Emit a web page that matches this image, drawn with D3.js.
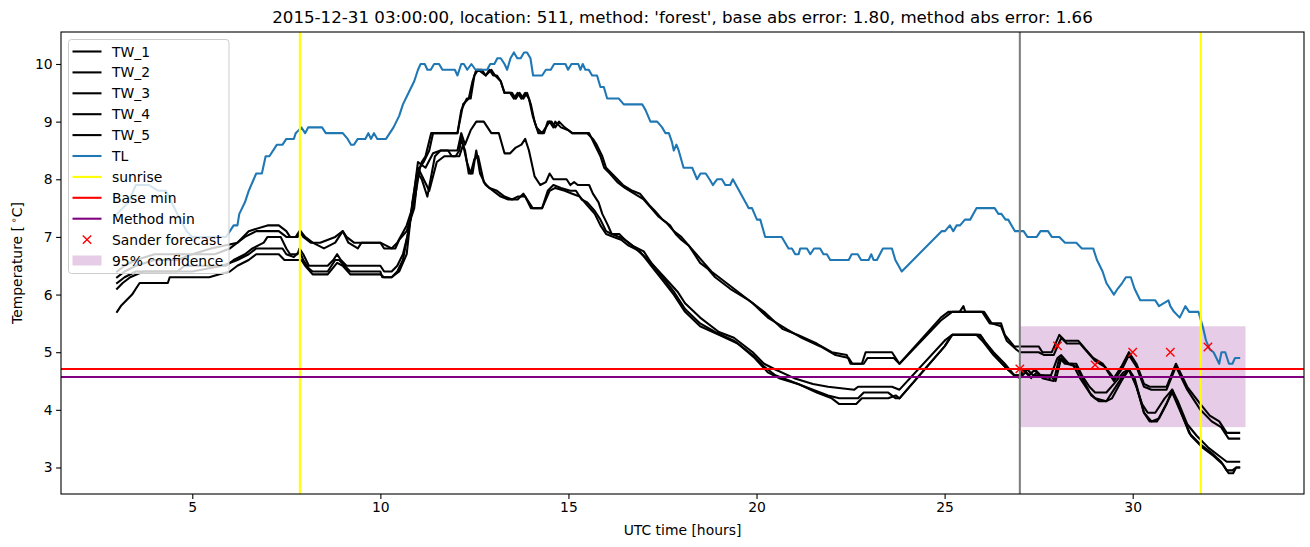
<!DOCTYPE html>
<html><head><meta charset="utf-8">
<script src="https://cdn.jsdelivr.net/npm/d3@7"></script>
<style>body{margin:0;background:#fff}text{font-family:"DejaVu Sans",sans-serif}</style>
</head><body>
<svg id="c" width="1310" height="547"></svg>
<script>
// ---- data: [hour, temperature] ----
const TW_1 = [[3.0,6.4],[3.2,6.5],[3.5,6.6],[4.0,6.7],[5.0,6.7],[5.5,6.8],[6.2,6.9],[6.5,7.1],[7.0,7.2],[7.3,7.2],[7.5,7.1],[7.6,7.0],[7.75,7.0],[7.85,7.1],[7.95,7.0],[8.15,6.9],[8.4,6.9],[8.8,7.0],[9.0,7.1],[9.1,7.0],[9.3,6.9],[10.0,6.9],[10.1,6.8],[10.4,6.8],[10.5,6.95],[10.7,7.1],[10.9,7.5],[11.0,8.1],[11.1,8.3],[11.2,8.4],[11.35,8.8],[12.05,8.8],[12.15,9.2],[12.3,9.4],[12.4,9.4],[12.5,9.8],[12.6,9.9],[12.8,9.8],[12.9,9.9],[13.0,9.8],[13.1,9.8],[13.2,9.7],[13.3,9.5],[13.45,9.5],[13.55,9.4],[13.65,9.5],[13.75,9.4],[13.85,9.5],[13.95,9.4],[14.05,9.1],[14.15,8.9],[14.3,8.8],[14.4,8.9],[14.5,9.0],[14.6,8.9],[14.65,9.0],[14.8,8.9],[15.0,8.85],[15.1,8.8],[15.5,8.8],[15.65,8.7],[15.75,8.6],[15.9,8.4],[16.0,8.2],[16.15,8.1],[16.3,8.0],[16.45,7.9],[16.7,7.8],[16.9,7.75],[17.15,7.55],[17.3,7.45],[17.5,7.3],[17.7,7.2],[17.85,7.05],[18.0,6.95],[18.2,6.85],[18.35,6.7],[18.5,6.55],[18.7,6.45],[18.9,6.3],[19.3,6.1],[19.8,5.9],[20.2,5.7],[20.7,5.4],[21.1,5.3],[21.6,5.15],[22.0,5.0],[22.4,4.95],[22.5,4.8],[22.8,4.8],[22.9,5.0],[23.6,5.0],[23.8,4.8],[24.9,5.6],[25.1,5.7],[25.4,5.7],[25.5,5.8],[25.55,5.7],[26.0,5.7],[26.2,5.5],[26.5,5.5],[26.6,5.3],[26.85,5.1],[27.0,5.1],[27.5,5.1],[27.6,5.0],[27.85,5.0],[28.05,5.3],[28.2,5.2],[28.55,5.2],[28.75,5.05],[28.95,4.9],[29.2,4.8],[29.5,4.55],[29.7,4.75],[29.9,5.0],[30.1,4.8],[30.3,4.45],[30.45,4.4],[30.9,4.4],[31.15,4.8],[31.45,4.4],[31.8,4.1],[32.05,3.9],[32.3,3.8],[32.5,3.6],[32.83,3.6]];
const TW_2 = [[3.0,6.3],[3.2,6.4],[3.5,6.5],[4.0,6.6],[4.6,6.6],[5.0,6.7],[5.6,6.7],[6.0,6.8],[6.4,7.0],[6.7,7.1],[7.3,7.1],[7.5,7.0],[7.8,7.0],[7.88,7.1],[8.0,7.0],[8.2,6.9],[8.5,6.8],[8.8,6.9],[9.0,7.1],[9.15,6.9],[9.4,6.8],[9.5,6.9],[10.0,6.9],[10.3,6.8],[10.45,6.9],[10.7,7.2],[10.9,7.6],[11.05,8.2],[11.15,8.3],[11.3,8.5],[11.4,8.8],[12.05,8.8],[12.2,9.3],[12.35,9.4],[12.45,9.7],[12.55,9.9],[12.7,9.9],[12.8,9.8],[12.95,9.9],[13.05,9.8],[13.2,9.7],[13.3,9.5],[13.5,9.5],[13.6,9.4],[13.7,9.5],[13.8,9.4],[13.9,9.5],[14.0,9.3],[14.1,9.0],[14.2,8.8],[14.35,8.8],[14.45,9.0],[14.55,9.0],[14.65,8.9],[14.75,9.0],[14.9,8.9],[15.1,8.8],[15.55,8.8],[15.7,8.6],[15.85,8.4],[15.95,8.2],[16.1,8.1],[16.3,7.95],[16.5,7.85],[16.75,7.75],[17.0,7.65],[17.2,7.5],[17.4,7.35],[17.6,7.25],[17.8,7.1],[18.0,7.0],[18.2,6.85],[18.4,6.7],[18.6,6.55],[18.8,6.4],[19.0,6.3],[19.4,6.1],[19.9,5.85],[20.3,5.6],[20.8,5.4],[21.2,5.25],[21.7,5.1],[22.1,4.95],[22.45,4.9],[22.55,4.8],[22.85,4.8],[22.95,4.9],[23.65,4.9],[23.8,4.8],[24.9,5.55],[25.2,5.7],[26.05,5.7],[26.25,5.5],[26.5,5.45],[26.65,5.2],[26.9,5.05],[27.0,5.0],[27.5,5.0],[27.65,4.95],[27.9,4.95],[28.1,5.25],[28.25,5.15],[28.6,5.15],[28.8,5.0],[29.0,4.85],[29.25,4.75],[29.5,4.5],[29.75,4.75],[29.9,4.95],[30.1,4.75],[30.3,4.4],[30.5,4.35],[30.9,4.35],[31.15,4.75],[31.45,4.35],[31.8,4.0],[32.1,3.8],[32.35,3.7],[32.55,3.5],[32.83,3.5]];
const TW_3 = [[3.0,6.1],[3.15,6.2],[3.35,6.3],[3.7,6.4],[4.6,6.4],[4.8,6.5],[5.9,6.5],[6.1,6.6],[6.4,6.7],[6.6,6.8],[6.9,6.9],[7.0,7.0],[7.35,7.0],[7.5,6.8],[7.6,6.7],[7.8,6.7],[7.85,6.8],[7.95,6.7],[8.1,6.5],[8.6,6.5],[8.75,6.6],[8.85,6.7],[8.95,6.6],[9.1,6.5],[10.0,6.5],[10.1,6.4],[10.3,6.4],[10.45,6.5],[10.6,6.7],[10.75,7.1],[10.9,7.8],[11.0,8.3],[11.2,8.2],[11.4,8.45],[11.6,8.5],[12.05,8.5],[12.15,8.8],[12.25,8.6],[12.4,8.85],[12.55,9.0],[12.75,9.0],[12.85,8.9],[12.95,8.8],[13.15,8.8],[13.3,8.45],[13.45,8.45],[13.6,8.55],[13.75,8.6],[13.85,8.7],[13.95,8.5],[14.1,8.05],[14.25,7.9],[14.4,7.95],[14.5,8.1],[14.6,8.0],[14.95,8.0],[15.05,7.9],[15.15,7.95],[15.25,7.9],[15.55,7.9],[15.65,7.75],[15.8,7.6],[15.9,7.4],[16.05,7.2],[16.15,7.05],[16.35,7.05],[16.5,6.95],[16.7,6.85],[16.95,6.7],[17.2,6.55],[17.55,6.3],[17.9,6.05],[18.1,5.85],[18.5,5.6],[19.0,5.35],[19.4,5.25],[19.9,5.0],[20.2,4.8],[20.5,4.7],[21.0,4.55],[21.5,4.45],[21.9,4.4],[22.6,4.35],[22.7,4.4],[23.6,4.4],[23.8,4.35],[25.0,5.2],[25.2,5.3],[25.95,5.3],[26.05,5.2],[26.3,5.0],[26.6,4.8],[26.85,4.6],[27.0,4.6],[27.2,4.7],[27.35,4.6],[27.6,4.6],[27.8,4.55],[28.0,4.9],[28.1,4.95],[28.3,4.8],[28.5,4.8],[28.65,4.6],[28.85,4.4],[29.0,4.3],[29.3,4.3],[29.5,4.45],[29.75,4.65],[29.9,4.7],[30.05,4.5],[30.25,4.1],[30.4,3.95],[30.6,3.95],[30.85,4.2],[31.05,4.35],[31.2,4.15],[31.45,3.75],[31.7,3.55],[32.0,3.35],[32.3,3.2],[32.5,3.1],[32.83,3.1]];
const TW_4 = [[3.0,6.2],[3.2,6.3],[3.5,6.4],[5.0,6.4],[5.8,6.5],[6.2,6.6],[6.5,6.7],[6.7,6.8],[7.4,6.8],[7.5,6.7],[7.7,6.65],[7.85,6.75],[7.95,6.6],[8.1,6.45],[8.2,6.4],[8.6,6.4],[8.8,6.6],[8.9,6.6],[9.05,6.5],[9.2,6.4],[10.0,6.4],[10.05,6.3],[10.3,6.3],[10.45,6.4],[10.6,6.6],[10.8,7.3],[11.0,8.1],[11.1,8.0],[11.25,7.7],[11.45,8.4],[11.6,8.5],[11.8,8.5],[11.9,8.4],[12.0,8.4],[12.1,8.5],[12.15,8.7],[12.25,8.5],[12.35,8.1],[12.45,8.1],[12.55,8.5],[12.65,8.1],[12.8,7.9],[13.0,7.8],[13.2,7.7],[13.4,7.65],[13.65,7.65],[13.8,7.75],[13.95,7.6],[14.05,7.5],[14.3,7.5],[14.45,7.8],[14.6,7.9],[14.8,7.85],[15.05,7.8],[15.2,7.8],[15.35,7.65],[15.5,7.6],[15.7,7.45],[15.85,7.3],[16.0,7.1],[16.15,7.05],[16.35,7.0],[16.5,6.95],[16.7,6.85],[17.0,6.75],[17.2,6.55],[17.5,6.3],[17.8,6.05],[18.1,5.75],[18.5,5.5],[18.9,5.35],[19.4,5.2],[19.9,4.95],[20.2,4.75],[20.5,4.6],[20.9,4.5],[21.5,4.35],[21.9,4.25],[22.2,4.2],[22.7,4.2],[22.85,4.3],[23.5,4.3],[23.7,4.2],[23.8,4.2],[25.0,5.1],[25.2,5.3],[25.9,5.3],[26.0,5.25],[26.25,5.0],[26.6,4.75],[26.85,4.6],[27.0,4.55],[27.15,4.65],[27.3,4.55],[27.45,4.65],[27.6,4.55],[27.9,4.5],[28.05,4.9],[28.2,4.8],[28.4,4.8],[28.6,4.55],[28.85,4.3],[29.0,4.2],[29.3,4.15],[29.45,4.2],[29.7,4.5],[29.9,4.7],[30.05,4.55],[30.3,3.95],[30.5,3.8],[30.7,3.85],[30.9,4.1],[31.05,4.35],[31.2,4.1],[31.5,3.6],[31.8,3.4],[32.1,3.25],[32.35,3.1],[32.5,2.95],[32.65,2.95],[32.75,3.0],[32.83,3.0]];
const TW_5 = [[3.0,5.7],[3.1,5.8],[3.25,5.9],[3.4,6.0],[3.5,6.1],[3.6,6.2],[4.35,6.2],[4.4,6.3],[5.45,6.3],[5.7,6.35],[6.0,6.4],[6.2,6.5],[6.5,6.6],[6.7,6.7],[7.3,6.7],[7.45,6.6],[7.9,6.6],[8.0,6.5],[8.2,6.35],[8.6,6.35],[8.85,6.55],[9.0,6.5],[9.2,6.35],[10.0,6.35],[10.1,6.3],[10.3,6.3],[10.5,6.4],[10.7,6.7],[10.85,7.6],[11.0,8.2],[11.15,8.0],[11.3,7.8],[11.5,8.3],[11.7,8.4],[12.1,8.4],[12.2,8.6],[12.3,8.3],[12.4,8.1],[12.5,8.35],[12.6,8.4],[12.75,7.95],[12.9,7.85],[13.1,7.8],[13.3,7.7],[13.5,7.65],[13.65,7.7],[13.85,7.7],[14.0,7.5],[14.3,7.5],[14.5,7.8],[14.65,7.85],[14.9,7.8],[15.1,7.75],[15.3,7.7],[15.5,7.55],[15.7,7.4],[15.85,7.2],[16.0,7.05],[16.2,7.0],[16.4,6.95],[16.6,6.85],[16.9,6.75],[17.2,6.5],[17.5,6.25],[17.8,6.0],[18.1,5.7],[18.5,5.45],[19.0,5.3],[19.5,5.15],[19.95,4.9],[20.3,4.65],[20.6,4.55],[21.1,4.45],[21.6,4.3],[22.0,4.2],[22.2,4.1],[22.65,4.1],[22.8,4.2],[23.5,4.2],[23.7,4.25],[23.8,4.2],[25.0,5.1],[25.2,5.3],[25.85,5.3],[26.0,5.2],[26.3,4.95],[26.6,4.75],[26.85,4.6],[27.0,4.6],[27.1,4.7],[27.25,4.6],[27.4,4.7],[27.55,4.6],[27.8,4.6],[27.95,4.5],[28.1,4.9],[28.25,4.8],[28.5,4.75],[28.7,4.5],[28.9,4.25],[29.1,4.15],[29.3,4.15],[29.5,4.35],[29.75,4.6],[29.9,4.7],[30.1,4.4],[30.3,3.95],[30.45,3.8],[30.65,3.8],[30.85,4.05],[31.05,4.3],[31.25,4.0],[31.55,3.55],[31.85,3.35],[32.15,3.2],[32.4,3.05],[32.55,2.9],[32.67,2.9],[32.75,3.0],[32.83,3.0]];
const TL = [[3.0,7.4],[3.3,7.6],[3.5,7.9],[3.85,7.9],[4.1,7.8],[4.3,7.8],[4.6,7.4],[4.85,7.1],[5.0,7.0],[5.9,7.0],[6.0,7.1],[6.1,7.2],[6.2,7.2],[6.25,7.4],[6.4,7.6],[6.5,7.8],[6.7,8.1],[6.85,8.1],[6.95,8.4],[7.05,8.4],[7.25,8.6],[7.4,8.6],[7.5,8.7],[7.7,8.7],[7.75,8.8],[7.9,8.9],[8.0,8.8],[8.08,8.9],[8.45,8.9],[8.55,8.8],[9.0,8.8],[9.13,8.7],[9.22,8.6],[9.3,8.6],[9.4,8.7],[9.6,8.7],[9.68,8.8],[9.75,8.7],[9.83,8.8],[9.92,8.7],[10.15,8.7],[10.35,8.9],[10.5,9.1],[10.6,9.3],[10.75,9.5],[10.9,9.7],[11.0,9.9],[11.07,10.0],[11.18,10.0],[11.25,9.9],[11.34,9.9],[11.43,10.0],[11.56,10.0],[11.65,9.9],[11.98,9.9],[12.05,9.8],[12.15,10.0],[12.22,10.0],[12.31,9.9],[12.42,10.0],[12.53,9.9],[12.84,9.9],[12.92,10.0],[13.03,10.0],[13.11,10.1],[13.2,10.1],[13.3,10.0],[13.37,9.9],[13.46,10.1],[13.55,10.2],[13.64,10.1],[13.73,10.1],[13.82,10.2],[13.9,10.2],[13.99,10.1],[14.06,9.8],[14.3,9.8],[14.4,9.9],[14.53,9.9],[14.62,10.0],[14.92,10.0],[14.99,9.9],[15.08,10.0],[15.26,10.0],[15.32,9.9],[15.38,10.0],[15.45,9.9],[15.54,9.9],[15.63,9.8],[15.76,9.8],[15.85,9.6],[15.94,9.6],[16.03,9.4],[16.34,9.4],[16.47,9.3],[16.96,9.3],[17.05,9.2],[17.18,9.0],[17.36,9.0],[17.49,8.9],[17.58,8.8],[17.67,8.8],[17.75,8.65],[17.8,8.5],[17.87,8.6],[17.93,8.5],[18.06,8.2],[18.29,8.2],[18.42,8.0],[18.51,8.1],[18.65,8.1],[18.75,8.0],[18.84,7.9],[18.95,8.0],[19.08,8.0],[19.17,7.9],[19.3,7.9],[19.37,8.0],[19.79,7.5],[19.88,7.5],[20.01,7.3],[20.1,7.3],[20.23,7.0],[20.67,7.0],[20.85,6.8],[20.94,6.8],[21.03,6.7],[21.12,6.7],[21.16,6.8],[21.34,6.8],[21.43,6.7],[21.53,6.8],[21.69,6.8],[21.78,6.7],[21.87,6.7],[21.96,6.6],[22.45,6.6],[22.53,6.7],[22.69,6.7],[22.78,6.6],[22.98,6.6],[23.05,6.7],[23.11,6.6],[23.2,6.6],[23.36,6.8],[23.6,6.8],[23.69,6.6],[23.86,6.4],[24.92,7.1],[25.01,7.1],[25.14,7.2],[25.23,7.1],[25.32,7.2],[25.41,7.2],[25.54,7.3],[25.68,7.3],[25.85,7.5],[26.33,7.5],[26.43,7.4],[26.51,7.4],[26.62,7.3],[26.69,7.3],[26.87,7.1],[27.1,7.1],[27.2,7.0],[27.45,7.0],[27.55,7.1],[27.75,7.1],[27.85,7.0],[28.05,7.0],[28.2,6.9],[28.5,6.9],[28.65,6.8],[28.95,6.8],[29.05,6.6],[29.2,6.4],[29.3,6.2],[29.5,6.0],[29.6,6.1],[29.72,6.2],[29.82,6.3],[29.95,6.3],[30.05,6.1],[30.2,5.9],[30.6,5.9],[30.7,5.8],[30.95,5.9],[31.0,5.8],[31.1,5.7],[31.25,5.6],[31.4,5.8],[31.5,5.7],[31.75,5.7],[31.88,5.4],[31.95,5.2],[32.05,5.05],[32.15,5.0],[32.3,4.8],[32.36,5.0],[32.46,5.0],[32.56,4.8],[32.65,4.8],[32.72,4.9],[32.83,4.9]];
const sunriseHours = [7.86, 31.81];
const forecastHour = 27;
const baseMin = 4.71;
const methodMin = 4.57;
const sanderHours = [27, 28, 29, 30, 31, 32];
const sanderValues = [4.71, 5.11, 4.78, 5.0, 5.0, 5.09];
const confHours = [27, 33];
const confRange = [3.70, 5.45];
const xTicks = [5, 10, 15, 20, 25, 30];
const yTicks = [3, 4, 5, 6, 7, 8, 9, 10];
const twSeries = [["TW_1", TW_1], ["TW_2", TW_2], ["TW_3", TW_3], ["TW_4", TW_4], ["TW_5", TW_5]];
const titleText = "2015-12-31 03:00:00, location: 511, method: 'forest', base abs error: 1.80, method abs error: 1.66";

// ---- layout ----
const L = 61, R = 1304, T = 32, B = 494;
const svg = d3.select("#c");
const x = d3.scaleLinear().domain([1.51, 34.554]).range([L, R]);
const y = d3.scaleLinear().domain([2.54, 10.555]).range([B, T]);
const line = d3.line().x(d => x(d[0])).y(d => y(d[1]));

svg.append("defs").append("clipPath").attr("id", "clip")
  .append("rect").attr("x", L).attr("y", T).attr("width", R - L).attr("height", B - T);
const g = svg.append("g").attr("clip-path", "url(#clip)");

// confidence band
g.append("rect").attr("x", x(confHours[0])).attr("width", x(confHours[1]) - x(confHours[0]))
  .attr("y", y(confRange[1])).attr("height", y(confRange[0]) - y(confRange[1]))
  .attr("fill", "purple").attr("fill-opacity", 0.2);

twSeries.forEach(([name, s]) => {
  g.append("path").attr("d", line(s)).attr("fill", "none").attr("stroke", "black")
    .attr("stroke-width", 2.08).attr("stroke-linejoin", "round").attr("stroke-linecap", "square");
});
g.append("path").attr("d", line(TL)).attr("fill", "none").attr("stroke", "#1f77b4")
  .attr("stroke-width", 2.08).attr("stroke-linejoin", "round").attr("stroke-linecap", "square");

sunriseHours.forEach(h => g.append("line").attr("x1", x(h)).attr("x2", x(h)).attr("y1", T).attr("y2", B)
  .attr("stroke", "yellow").attr("stroke-width", 2.08));
g.append("line").attr("x1", L).attr("x2", R).attr("y1", y(baseMin)).attr("y2", y(baseMin))
  .attr("stroke", "red").attr("stroke-width", 2.08);
g.append("line").attr("x1", L).attr("x2", R).attr("y1", y(methodMin)).attr("y2", y(methodMin))
  .attr("stroke", "purple").attr("stroke-width", 2.08);
g.append("line").attr("x1", x(forecastHour)).attr("x2", x(forecastHour)).attr("y1", T).attr("y2", B)
  .attr("stroke", "grey").attr("stroke-width", 2.08);

const xm = 4.2;
sanderHours.forEach((h, i) => {
  const cx = x(h), cy = y(sanderValues[i]);
  g.append("path").attr("d", `M${cx-xm},${cy-xm}L${cx+xm},${cy+xm}M${cx-xm},${cy+xm}L${cx+xm},${cy-xm}`)
    .attr("stroke", "red").attr("stroke-width", 1.4).attr("fill", "none");
});

// axes
const xAxis = svg.append("g").attr("transform", `translate(0,${B})`)
  .call(d3.axisBottom(x).tickValues(xTicks).tickSize(4.9).tickPadding(3.5).tickFormat(d3.format("d")));
const yAxis = svg.append("g").attr("transform", `translate(${L},0)`)
  .call(d3.axisLeft(y).tickValues(yTicks).tickSize(4.9).tickPadding(3.5).tickFormat(d3.format("d")));
[xAxis, yAxis].forEach(a => {
  a.select(".domain").remove();
  a.selectAll("line").attr("stroke", "black").attr("stroke-width", 1.1);
  a.selectAll("text").attr("font-family", "DejaVu Sans").attr("font-size", 13.9).attr("fill", "black");
});
svg.append("rect").attr("x", L).attr("y", T).attr("width", R - L).attr("height", B - T)
  .attr("fill", "none").attr("stroke", "black").attr("stroke-width", 1.1);

// labels
svg.append("text").attr("x", (L + R) / 2).attr("y", 23).attr("text-anchor", "middle")
  .attr("font-size", 16.67).text(titleText);
svg.append("text").attr("x", (L + R) / 2).attr("y", 535).attr("text-anchor", "middle")
  .attr("font-size", 13.9).text("UTC time [hours]");
const yl = svg.append("text").attr("transform", `translate(22,${(T + B) / 2}) rotate(-90)`)
  .attr("text-anchor", "middle").attr("font-size", 13.9);
yl.append("tspan").text("Temperature [\u2009");
yl.append("tspan").attr("font-size", 9.7).attr("dy", -5).text("\u2218");
yl.append("tspan").attr("dy", 5).text("C]");

// legend
const lg = svg.append("g");
lg.append("rect").attr("x", 68.5).attr("y", 39.5).attr("width", 160.5).attr("height", 234)
  .attr("rx", 3).attr("fill", "white").attr("fill-opacity", 0.8).attr("stroke", "#cccccc").attr("stroke-width", 1);
const items = [
  ...twSeries.map(s => ({label: s[0], type: "line", color: "black"})),
  {label: "TL", type: "line", color: "#1f77b4"},
  {label: "sunrise", type: "line", color: "yellow"},
  {label: "Base min", type: "line", color: "red"},
  {label: "Method min", type: "line", color: "purple"},
  {label: "Sander forecast", type: "x", color: "red"},
  {label: "95% confidence", type: "patch", color: "purple"}
];
items.forEach((it, i) => {
  const cy = 51.5 + i * 20.9;
  if (it.type === "line") {
    lg.append("line").attr("x1", 72.5).attr("x2", 101.5).attr("y1", cy).attr("y2", cy)
      .attr("stroke", it.color).attr("stroke-width", 2.08);
  } else if (it.type === "x") {
    const cx = 87;
    lg.append("path").attr("d", `M${cx-xm},${cy-xm}L${cx+xm},${cy+xm}M${cx-xm},${cy+xm}L${cx+xm},${cy-xm}`)
      .attr("stroke", it.color).attr("stroke-width", 1.4);
  } else {
    lg.append("rect").attr("x", 72.5).attr("y", cy - 5).attr("width", 29).attr("height", 10)
      .attr("fill", it.color).attr("fill-opacity", 0.2);
  }
  lg.append("text").attr("x", 112).attr("y", cy + 5).attr("font-size", 13.9).text(it.label);
});
</script>
</body></html>
